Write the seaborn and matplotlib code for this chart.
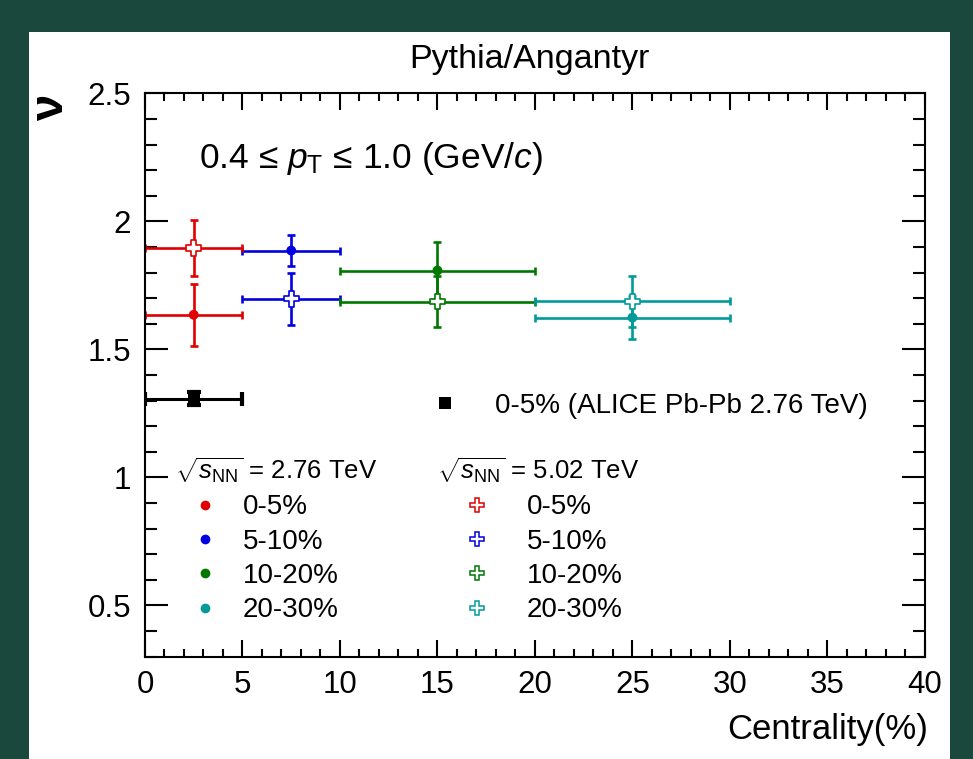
import numpy as np
import pandas as pd
import matplotlib
matplotlib.use("Agg")
import matplotlib.pyplot as plt
from matplotlib.lines import Line2D
from matplotlib.patches import Rectangle
from matplotlib.ticker import MultipleLocator, FixedLocator, FuncFormatter
import seaborn as sns

# ---- data -------------------------------------------------------------
centrality_classes = ["0-5%", "5-10%", "10-20%", "20-30%"]
cent_low = [0, 5, 10, 20]
cent_high = [5, 10, 20, 30]

nu_276 = [1.635, 1.886, 1.808, 1.624]
nu_276_err = [0.12, 0.06, 0.11, 0.085]
nu_502 = [1.896, 1.697, 1.686, 1.688]
nu_502_err = [0.11, 0.10, 0.10, 0.10]

alice_low = [0]
alice_high = [5]
alice_nu = [1.307]
alice_err = [0.025]

x_ticks = [0, 5, 10, 15, 20, 25, 30, 35, 40]
y_ticks = [0.5, 1.0, 1.5, 2.0, 2.5]

class_colors = ["#e00000", "#0000e0", "#007800", "#009a9a"]

# ---- style ------------------------------------------------------------
sns.set_style("ticks")
plt.rcParams["font.family"] = ["Liberation Sans", "DejaVu Sans"]
plt.rcParams["mathtext.fontset"] = "custom"
plt.rcParams["mathtext.rm"] = "Liberation Sans"
plt.rcParams["mathtext.it"] = "Liberation Sans:italic"
plt.rcParams["mathtext.bf"] = "Liberation Sans:bold"
for key in ["text.color", "axes.labelcolor", "xtick.color", "ytick.color",
            "axes.edgecolor"]:
    plt.rcParams[key] = "black"

BG = "#1b483d"
fig = plt.figure(figsize=(9.73, 7.59), dpi=100, facecolor=BG)
fig.patches.append(Rectangle((0.0298, 0.0), 0.9466, 0.9578, transform=fig.transFigure,
                             facecolor="white", edgecolor="none", zorder=-10))
ax = fig.add_axes([0.149, 0.135, 0.8016, 0.742])
ax.set_facecolor("white")

# ---- table ------------------------------------------------------------
mid = [(lo + hi) / 2 for lo, hi in zip(cent_low, cent_high)]
half = [(hi - lo) / 2 for lo, hi in zip(cent_low, cent_high)]
df = pd.DataFrame({
    "centrality": centrality_classes * 2,
    "x": mid * 2,
    "xerr": half * 2,
    "nu": nu_276 + nu_502,
    "err": nu_276_err + nu_502_err,
    "energy": ["2.76"] * 4 + ["5.02"] * 4,
})
palette = dict(zip(centrality_classes, class_colors))

# error bars
for _, r in df.iterrows():
    ax.errorbar(r["x"], r["nu"], xerr=r["xerr"], yerr=r["err"], fmt="none",
                ecolor=palette[r["centrality"]], elinewidth=1.9, capsize=2.8,
                capthick=1.9, zorder=2)

alice_mid = [(lo + hi) / 2 for lo, hi in zip(alice_low, alice_high)]
alice_half = [(hi - lo) / 2 for lo, hi in zip(alice_low, alice_high)]
ax.errorbar(alice_mid, alice_nu, xerr=alice_half, yerr=alice_err, fmt="none",
            ecolor="black", elinewidth=2.2, capsize=5, capthick=3, zorder=2)

# markers
sns.scatterplot(data=df[df["energy"] == "2.76"], x="x", y="nu", hue="centrality",
                palette=palette, marker="o", s=50, linewidth=0, legend=False,
                ax=ax, zorder=4)
n_before = len(ax.collections)
sns.scatterplot(data=df[df["energy"] == "5.02"], x="x", y="nu", hue="centrality",
                palette=palette, marker="P", s=120, legend=False, ax=ax, zorder=5)
open_pts = ax.collections[n_before]
open_pts.set_edgecolors(open_pts.get_facecolors())
open_pts.set_facecolors("white")
open_pts.set_linewidth(1.2)

sns.scatterplot(x=alice_mid, y=alice_nu, marker="s", color="black", s=85,
                linewidth=0, legend=False, ax=ax, zorder=5)

# ---- axes -------------------------------------------------------------
ax.set_xlim(0, 40)
ax.set_ylim(0.3, 2.5)
ax.xaxis.set_major_locator(FixedLocator(x_ticks))
ax.xaxis.set_minor_locator(MultipleLocator(1))
ax.yaxis.set_major_locator(FixedLocator(y_ticks))
ax.yaxis.set_minor_locator(MultipleLocator(0.1))
ax.yaxis.set_major_formatter(FuncFormatter(lambda v, _: f"{v:g}"))
for s in ax.spines.values():
    s.set_linewidth(1.5)
    s.set_color("black")
    s.set_visible(True)
ax.tick_params(axis="both", which="both", direction="in", top=True, right=True,
               width=1.5, colors="black", labelsize=22.5)
ax.tick_params(axis="x", which="major", length=12, pad=10)
ax.tick_params(axis="x", which="minor", length=6)
ax.tick_params(axis="y", which="major", length=16.5, pad=10)
ax.tick_params(axis="y", which="minor", length=8.5)

ax.set_xlabel("Centrality(%)", fontsize=25, ha="right", va="center")
ax.xaxis.set_label_coords(1.004, -0.13)
ax.set_ylabel("ν", fontsize=34, rotation=90, ha="center", va="center",
              fontweight="bold")
ax.yaxis.set_label_coords(-0.12, 0.975)

fig.text(0.544, 0.921, "Pythia/Angantyr", fontsize=24.5, ha="center", va="center")
ax.text(0.069, 0.885, "0.4 ≤ $p_{\\mathrm{T}}$ ≤ 1.0 (GeV/$c$)", fontsize=25.5,
        ha="left", va="center", transform=ax.transAxes)

# ---- legends ----------------------------------------------------------
alice_handle = Line2D([], [], ls="none", marker="s", color="black", markersize=8,
                      markeredgewidth=0)
leg_alice = ax.legend([alice_handle], ["0-5% (ALICE Pb-Pb 2.76 TeV)"],
                      loc="center left", bbox_to_anchor=(0.346, 0.4446),
                      frameon=False, fontsize=20, handlelength=2.16,
                      handletextpad=0.72, borderpad=0, borderaxespad=0)
ax.add_artist(leg_alice)

filled_handles = [Line2D([], [], ls="none", marker="o", color=c, markersize=7,
                         markeredgewidth=0) for c in class_colors]
leg_276 = ax.legend(filled_handles, centrality_classes,
                    title=r"$\sqrt{s_{\mathrm{NN}}}$ = 2.76 TeV", title_fontsize=18.5,
                    alignment="left", loc="upper left", bbox_to_anchor=(0.0385, 0.356),
                    frameon=False, fontsize=20, handlelength=2.16,
                    handletextpad=0.29, labelspacing=0.30, borderpad=0,
                    borderaxespad=0)
ax.add_artist(leg_276)

open_handles = [Line2D([], [], ls="none", marker="P", markerfacecolor="white",
                       markeredgecolor=c, markersize=10, markeredgewidth=1.1)
                for c in class_colors]
leg_502 = ax.legend(open_handles, centrality_classes,
                    title=r"$\sqrt{s_{\mathrm{NN}}}$ = 5.02 TeV", title_fontsize=18.5,
                    alignment="left", loc="upper left", bbox_to_anchor=(0.374, 0.356),
                    frameon=False, fontsize=20, handlelength=2.88,
                    handletextpad=0.36, labelspacing=0.30, borderpad=0,
                    borderaxespad=0)

fig.savefig("out.png", dpi=100, facecolor=BG)
